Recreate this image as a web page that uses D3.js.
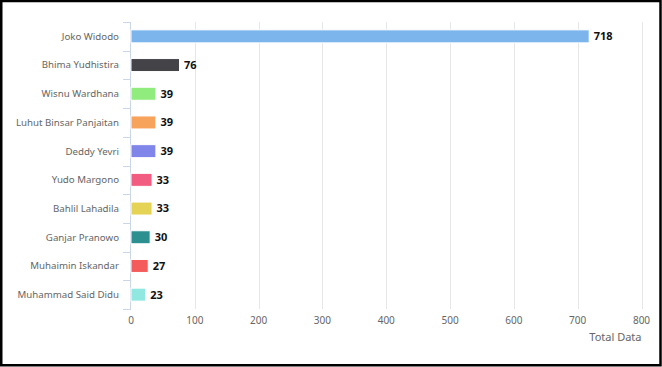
<!DOCTYPE html>
<html><head><meta charset="utf-8">
<script src="https://cdn.jsdelivr.net/npm/d3@7"></script>
<style>body{margin:0;background:#fff}svg{display:block}</style>
</head><body>
<svg id="c" width="662" height="367"></svg>
<script>
const categories = ["Joko Widodo","Bhima Yudhistira","Wisnu Wardhana","Luhut Binsar Panjaitan","Deddy Yevri","Yudo Margono","Bahlil Lahadila","Ganjar Pranowo","Muhaimin Iskandar","Muhammad Said Didu"];
const values = [718,76,39,39,39,33,33,30,27,23];
const colors = ["#7cb5ec","#434348","#90ed7d","#f7a35c","#8085e9","#f15c80","#e4d354","#2b908f","#f45b5b","#91e8e1"];
const xTicks = [0,100,200,300,400,500,600,700,800];
const xTitle = "Total Data";

(function(){
const svg = d3.select("#c");
const font = "'Noto Sans', sans-serif";
const pL = 131, pR = 641.5, pT = 22, pB = 309;
const x = d3.scaleLinear().domain([0,800]).range([pL,pR]);
const y = d3.scaleBand().domain(categories).range([pT,pB]);

// frame
svg.append("rect").attr("x",1.25).attr("y",1).attr("width",659.25).attr("height",364.25)
  .attr("fill","none").attr("stroke","#000").attr("stroke-width",2.5);

// gridlines
svg.append("g").selectAll("line").data(xTicks.filter(d=>d>0)).join("line")
  .attr("x1",d=>Math.round(x(d))+0.5).attr("x2",d=>Math.round(x(d))+0.5)
  .attr("y1",pT).attr("y2",pB).attr("stroke","#e6e6e6").attr("stroke-width",1);

// y axis
const yTickPos = d3.range(categories.length+1).map(i=>pT+i*y.step());
svg.append("line").attr("x1",pL-0.5).attr("x2",pL-0.5).attr("y1",pT).attr("y2",pB)
  .attr("stroke","#ccd6eb");
svg.append("g").selectAll("line").data(yTickPos).join("line")
  .attr("x1",pL-8).attr("x2",pL).attr("y1",d=>Math.round(d)+0.5).attr("y2",d=>Math.round(d)+0.5)
  .attr("stroke","#ccd6eb");
svg.append("g").selectAll("text").data(categories).join("text")
  .attr("x",119).attr("y",d=>y(d)+y.bandwidth()/2).attr("dy","0.35em")
  .attr("text-anchor","end").attr("font-family",font).attr("font-size","9.7px")
  .attr("fill","#666666").text(d=>d);

// bars
const bh = 13;
svg.append("g").selectAll("rect").data(values).join("rect")
  .attr("x",x(0)).attr("y",(d,i)=>y(categories[i])+y.bandwidth()/2-bh/2)
  .attr("width",d=>x(d)-x(0)).attr("height",bh)
  .attr("fill",(d,i)=>colors[i]).attr("stroke","#fff").attr("stroke-width",1);

// data labels
svg.append("g").selectAll("text").data(values).join("text")
  .attr("x",d=>x(d)+4.5).attr("y",(d,i)=>y(categories[i])+y.bandwidth()/2).attr("dy","0.35em")
  .attr("font-family",font).attr("font-size","11px").attr("font-weight","bold")
  .attr("fill","#111").text(d=>d);

// x tick labels
svg.append("g").selectAll("text").data(xTicks).join("text")
  .attr("x",d=>x(d)).attr("y",320).attr("dy","0.35em").attr("text-anchor","middle")
  .attr("font-family",font).attr("font-size","10px").attr("fill","#666666").text(d=>d);

// x title
svg.append("text").attr("x",pR).attr("y",337).attr("dy","0.35em").attr("text-anchor","end")
  .attr("font-family",font).attr("font-size","11px").attr("fill","#666666").text(xTitle);
})();
</script>
</body></html>
